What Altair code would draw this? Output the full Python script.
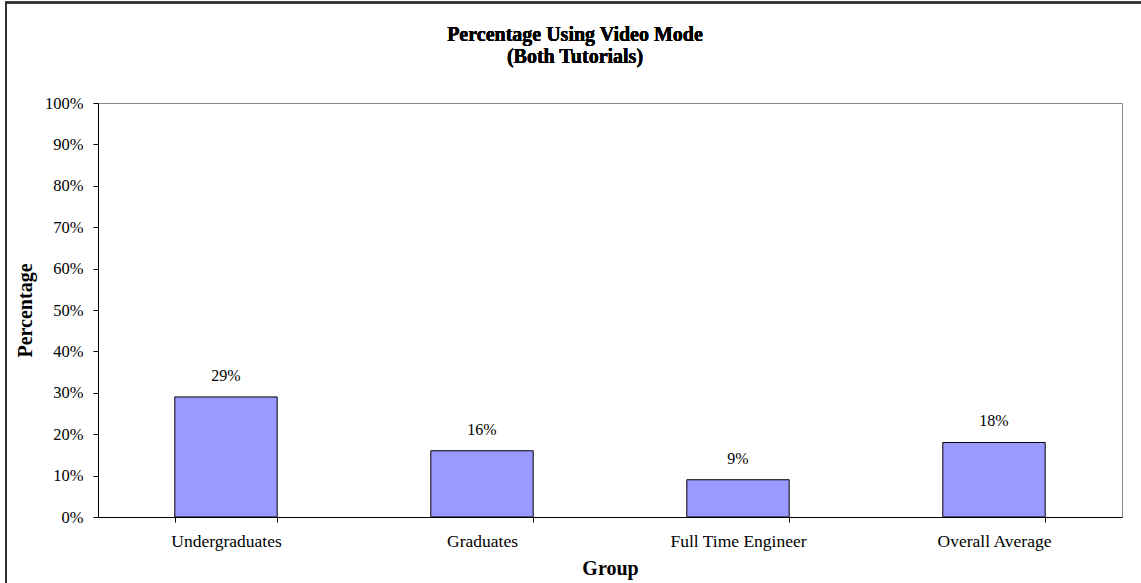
import altair as alt
import pandas as pd

# Share of participants who used video mode, by group (percent)
groups = ["Undergraduates", "Graduates", "Full Time Engineer", "Overall Average"]
percent_video = [29, 16, 9, 18]
y_ticks = [0, 10, 20, 30, 40, 50, 60, 70, 80, 90, 100]
title_lines = ["Percentage Using Video Mode", "(Both Tutorials)"]

df = pd.DataFrame({"group": groups, "pct": percent_video})

FONT = "Liberation Serif"

x_enc = alt.X(
    "group:N",
    sort=groups,
    title="Group",
    scale=alt.Scale(paddingInner=0.6, paddingOuter=0.3),
    axis=alt.Axis(
        labelAngle=0,
        tickBand="extent",
        labelPadding=10,
        labelFontSize=17.5,
        titlePadding=9,
    ),
)
y_enc = alt.Y(
    "pct:Q",
    title="Percentage",
    scale=alt.Scale(domain=[0, 100], nice=False),
    axis=alt.Axis(
        values=y_ticks,
        labelExpr="datum.value + '%'",
        labelPadding=10,
        labelFontSize=16.5,
        titlePadding=9,
    ),
)

bars = alt.Chart(df).mark_bar(
    color="#9999FF", stroke="#000000", strokeWidth=1
).encode(x=x_enc, y=y_enc)

labels = alt.Chart(df).mark_text(
    dy=-13, font=FONT, fontSize=16, color="#000000", baseline="bottom"
).encode(
    x=alt.X("group:N", sort=groups),
    y=alt.Y("pct:Q"),
    text=alt.Text("label:N"),
).transform_calculate(label="datum.pct + '%'")

# Chart heading, two centred lines above the plot
heading_1 = alt.Chart(df).mark_text(
    font=FONT, fontSize=20, fontWeight="bold", color="#000000",
    align="center", baseline="middle", text=title_lines[0],
).encode(x=alt.value(477), y=alt.value(-68))
heading_2 = alt.Chart(df).mark_text(
    font=FONT, fontSize=20, fontWeight="bold", color="#000000",
    align="center", baseline="middle", text=title_lines[1],
).encode(x=alt.value(477), y=alt.value(-46))

# Outer chart frame (left and top edges)
frame_left = alt.Chart(df).mark_rule(color="#333333", strokeWidth=2).encode(
    x=alt.value(-92), y=alt.value(-100.5), y2=alt.value(500)
)
frame_top = alt.Chart(df).mark_rule(color="#333333", strokeWidth=2).encode(
    y=alt.value(-100.5), x=alt.value(-93), x2=alt.value(1060)
)

chart = (
    alt.layer(bars, labels, heading_1, heading_2, frame_left, frame_top)
    .properties(
        width=1024,
        height=414,
        autosize=alt.AutoSizeParams(type="none"),
        padding={"left": 98, "top": 103, "right": 19, "bottom": 66},
        background="#ffffff",
    )
    .configure_view(stroke="#888888", strokeWidth=1)
    .configure_axis(
        labelFont=FONT,
        labelColor="#000000",
        titleFont=FONT,
        titleFontSize=20,
        titleFontWeight="bold",
        titleColor="#000000",
        domainColor="#000000",
        tickColor="#000000",
        tickSize=5,
        grid=False,
    )
)

chart.save("out.html", embed_options={"renderer": "svg", "actions": False})
